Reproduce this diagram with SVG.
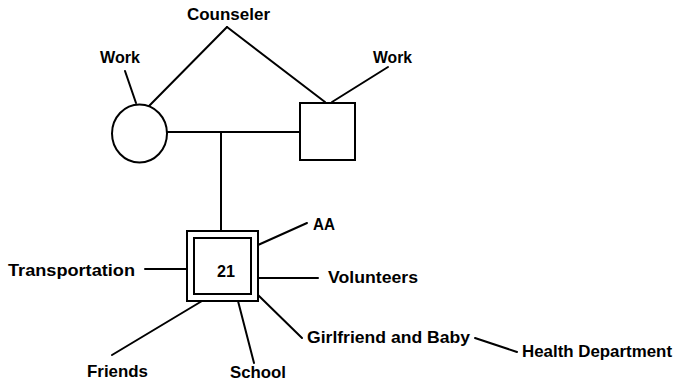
<svg xmlns="http://www.w3.org/2000/svg" width="684" height="384" viewBox="0 0 684 384">
<style>
  .shape { fill: #fff; stroke: #000; stroke-width: 2; }
  .conn line { stroke: #000; stroke-width: 2; stroke-linecap: round; }
  text { font-family: "Liberation Sans", Arial, sans-serif; font-weight: bold; font-size: 17px; fill: #000; }
</style>
<rect width="684" height="384" fill="#fff"/>
<g id="connectors" class="conn">
  <line x1="227" y1="27" x2="149" y2="106"/>
  <line x1="227" y1="27" x2="325" y2="102"/>
  <line x1="125" y1="71" x2="136" y2="103"/>
  <line x1="388" y1="67" x2="332" y2="102"/>
  <line x1="167" y1="132" x2="300" y2="132"/>
  <line x1="221" y1="132" x2="221" y2="231"/>
  <line x1="145" y1="269" x2="187" y2="269"/>
  <line x1="307" y1="223" x2="258" y2="245"/>
  <line x1="258" y1="278" x2="318" y2="278"/>
  <line x1="258" y1="295" x2="302" y2="338"/>
  <line x1="238" y1="301" x2="254" y2="363"/>
  <line x1="202" y1="301" x2="112" y2="355"/>
  <line x1="475" y1="338" x2="517" y2="352"/>
</g>
<g id="mother"><ellipse class="shape" cx="139.5" cy="133.5" rx="27.5" ry="29"/></g>
<g id="father"><rect class="shape" x="300" y="103" width="55" height="57"/></g>
<g id="client">
  <rect class="shape" x="187" y="231" width="71" height="70"/>
  <rect class="shape" x="194" y="238" width="57" height="56" stroke-width="2.5"/>
  <text x="217" y="277" font-size="19" textLength="18" lengthAdjust="spacingAndGlyphs">21</text>
</g>
<g id="counseler"><text x="187" y="20" textLength="83" lengthAdjust="spacingAndGlyphs">Counseler</text></g>
<g id="work-mother"><text x="100" y="63" textLength="40" lengthAdjust="spacingAndGlyphs">Work</text></g>
<g id="work-father"><text x="373" y="63" textLength="39" lengthAdjust="spacingAndGlyphs">Work</text></g>
<g id="aa"><text x="313" y="230" textLength="22" lengthAdjust="spacingAndGlyphs">AA</text></g>
<g id="transportation"><text x="8" y="276" textLength="127" lengthAdjust="spacingAndGlyphs">Transportation</text></g>
<g id="volunteers"><text x="328" y="283" textLength="90" lengthAdjust="spacingAndGlyphs">Volunteers</text></g>
<g id="girlfriend"><text x="307" y="343" textLength="163" lengthAdjust="spacingAndGlyphs">Girlfriend and Baby</text></g>
<g id="health"><text x="522" y="357" textLength="150" lengthAdjust="spacingAndGlyphs">Health Department</text></g>
<g id="friends"><text x="87" y="377" textLength="61" lengthAdjust="spacingAndGlyphs">Friends</text></g>
<g id="school"><text x="230" y="378" textLength="56" lengthAdjust="spacingAndGlyphs">School</text></g>
</svg>
